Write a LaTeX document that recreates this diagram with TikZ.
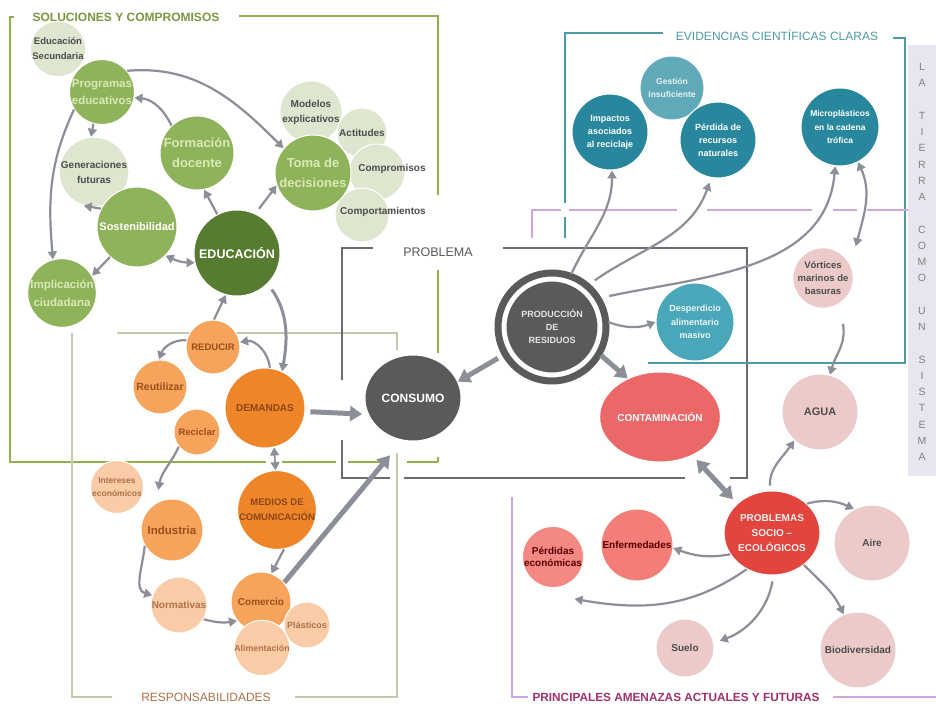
\documentclass[tikz,border=0pt]{standalone}
\usepackage{fontspec}
\setmainfont{Liberation Sans}
\usetikzlibrary{arrows.meta,shapes.geometric}
\definecolor{solgreen}{HTML}{8FB35A}
\definecolor{solpale}{HTML}{DEE6D0}
\definecolor{soldark}{HTML}{567B31}
\definecolor{soltext}{HTML}{D9EAB8}
\definecolor{solline}{HTML}{92B04C}
\definecolor{orlight}{HTML}{F6A45C}
\definecolor{orstrong}{HTML}{EE8528}
\definecolor{orpale}{HTML}{F9CBA6}
\definecolor{ortext}{HTML}{9A4E1C}
\definecolor{respline}{HTML}{C6C7AB}
\definecolor{conscol}{HTML}{5A5A5A}
\definecolor{evdark}{HTML}{28879D}
\definecolor{evmid}{HTML}{60A9B8}
\definecolor{evlight}{HTML}{4AA7BA}
\definecolor{evline}{HTML}{4E9BA8}
\definecolor{ampale}{HTML}{ECCACA}
\definecolor{amred}{HTML}{E2443E}
\definecolor{amcont}{HTML}{EA6868}
\definecolor{amsalmon}{HTML}{F37E78}
\definecolor{amline}{HTML}{CDA6DC}
\definecolor{amtitle}{HTML}{A2306C}
\definecolor{arrgray}{HTML}{8C8E98}
\definecolor{bandcol}{HTML}{E9E5EE}
\newcommand{\fsz}[2]{\fontsize{#1}{#2}\selectfont\bfseries}

\begin{document}
\begin{tikzpicture}[x=1pt,y=1pt,
    ball/.style={circle,inner sep=0pt,draw=white,line width=1pt,align=center,minimum size=#1pt},
    oval/.style 2 args={ellipse,inner sep=0pt,draw=white,line width=1pt,align=center,minimum width=#1pt,minimum height=#2pt},
    sol/.style={ball=#1,fill=solgreen,text=soltext},
    solp/.style={ball=#1,fill=solpale,text=black!70},
    resp/.style={ball=#1,fill=orlight,text=ortext},
    resps/.style={ball=#1,fill=orstrong,text=ortext!90!black},
    respp/.style={ball=#1,fill=orpale,text=ortext!80},
    evid/.style={ball=#1,fill=evdark,text=white},
    amen/.style={ball=#1,fill=ampale,text=black!70},
    solfr/.style={draw=solline,line width=1.8pt},
    respfr/.style={draw=respline,line width=1.6pt},
    probfr/.style={draw=black!58,line width=1.6pt},
    evfr/.style={draw=evline,line width=1.6pt},
    amfr/.style={draw=amline,line width=1.6pt},
    arr/.style={draw=arrgray,line width=2.2pt,-{Triangle[length=8pt,width=9pt]}},
    arrd/.style={arr,{Triangle[length=8pt,width=9pt]}-{Triangle[length=8pt,width=9pt]}},
    bigarr/.style={draw=arrgray,line width=5pt,-{Triangle[length=12pt,width=15pt]}},
    bigarrd/.style={bigarr,{Triangle[length=12pt,width=15pt]}-{Triangle[length=12pt,width=15pt]}}]
    \fill[white] (0,0) rectangle (936,-706);
    \useasboundingbox (0,0) rectangle (936,-706);
    \fill[bandcol] (908,-45) rectangle (936,-476);

    % frames
    \draw[solfr] (14,-17) -- (10,-17) -- (10,-462) -- (266,-462);
    \draw[solfr] (239,-16) -- (438,-16) -- (438,-195);
    \draw[solfr] (438,-270) -- (438,-353);
    \foreach \a/\b in {282/336,348/388,407/438}
        \draw[solfr] (\a,-462) -- (\b,-462);
    \draw[solfr] (438,-462) -- (438,-457);
    \draw[respfr] (117,-333) -- (397,-333) -- (397,-350);
    \draw[respfr] (397,-453) -- (397,-697) -- (295,-697);
    \draw[respfr] (112,-697) -- (72,-697) -- (72,-333);
    \draw[probfr] (342,-380) -- (342,-248) -- (373,-248);
    \draw[probfr] (503,-248) -- (747,-248) -- (747,-478) -- (730,-478);
    \draw[probfr] (685,-478) -- (404,-478);
    \draw[probfr] (390,-478) -- (342,-478) -- (342,-440);
    \draw[evfr] (565,-238) -- (565,-217);
    \draw[evfr] (565,-203) -- (565,-33) -- (663,-33);
    \draw[evfr] (893,-38) -- (905,-38) -- (905,-363) -- (648,-363);
    \draw[amfr] (532,-238) -- (532,-210) -- (561,-210);
    \foreach \a/\b in {569/677,707/812,833/857,867/908}
        \draw[amfr] (\a,-210) -- (\b,-210);
    \draw[amfr] (512,-497) -- (512,-697) -- (528,-697);
    \draw[amfr] (833,-697) -- (936,-697);

    % soluciones y compromisos
    \node[solp=46,font=\fsz{9.5}{15}] (secund) at (58,-49) {Educación\\Secundaria};
    \node[solp=54,font=\fsz{10}{15}] (gener) at (94,-172) {Generaciones\\futuras};
    \node[solp=46,font=\fsz{10}{15}] (model) at (311,-112) {Modelos\\explicativos};
    \node[solp=50,font=\fsz{10}{12}] (actit) at (362,-133) {Actitudes};
    \node[solp=56] (compr) at (377,-172) {};
    \node[solp=54] (comport) at (362,-215) {};
    \node[sol=64,font=\fsz{11.5}{17}] (prog) at (102,-92) {Programas\\educativos};
    \node[sol=74,font=\fsz{13}{20}] (form) at (197,-153) {Formación\\docente};
    \node[sol=76,font=\fsz{13}{20}] (toma) at (313,-173) {Toma de\\decisiones};
    \node[sol=80,text=white,font=\fsz{11}{13}] (sost) at (137,-227) {Sostenibilidad};
    \node[sol=68,font=\fsz{11.5}{18}] (impl) at (62,-293) {Implicación\\ciudadana};
    \node[sol=86,fill=soldark,text=white,font=\fsz{12.5}{15}] (educ) at (237,-253) {EDUCACIÓN};
    \node[text=black!70,font=\fsz{10}{12}] (comprtxt) at (392,-169) {Compromisos};
    \node[text=black!70,font=\fsz{10}{12}] (comporttxt) at (383,-212) {Comportamientos};

    % responsabilidades
    \node[resp=54,font=\fsz{9.5}{12}] (red) at (213,-347) {REDUCIR};
    \node[resp=54,font=\fsz{10.5}{12}] (reut) at (160,-387) {Reutilizar};
    \node[resp=46,font=\fsz{9.5}{12}] (reci) at (197,-432) {Reciclar};
    \node[resps=80,font=\fsz{10}{12}] (dem) at (265,-408) {DEMANDAS};
    \node[resps=78,font=\fsz{9.5}{15}] (med) at (277,-510) {MEDIOS DE\\COMUNICACIÓN};
    \node[resp=62,font=\fsz{11.5}{13}] (ind) at (172,-530) {Industria};
    \node[resp=60,font=\fsz{10}{12}] (com) at (261,-602) {Comercio};
    \node[respp=44,font=\fsz{8.5}{12.5}] (inter) at (117,-487) {Intereses\\económicos};
    \node[respp=56,font=\fsz{10}{12}] (norm) at (179,-605) {Normativas};
    \node[respp=46,font=\fsz{9}{11}] (plast) at (307,-625) {Plásticos};
    \node[respp=50,font=\fsz{8.8}{11}] (alim) at (262,-648) {Alimentación};

    % problema
    \node[oval={96}{86},fill=conscol,text=white,font=\fsz{12}{14}] (cons) at (413,-398) {CONSUMO};
    \node[circle,inner sep=0pt,minimum size=95pt,fill=conscol,draw=white,line width=4pt,outer sep=9pt,
        text=white!90!black,align=center,font=\fsz{9}{13}] (prod) at (552,-327) {PRODUCCIÓN\\DE\\RESIDUOS};
    \draw[conscol,line width=7pt] (prod.center) circle (54pt);

    % evidencias
    \node[evid=76,font=\fsz{9}{13}] (imp) at (610,-132) {Impactos\\asociados\\al reciclaje};
    \node[evid=64,fill=evmid,text=white!85!evmid,font=\fsz{8.5}{13}] (gest) at (672,-88) {Gestión\\insuficiente};
    \node[evid=76,font=\fsz{9}{13}] (perd) at (718,-140) {Pérdida de\\recursos\\naturales};
    \node[evid=78,font=\fsz{8.5}{13.5}] (micro) at (840,-127) {Microplásticos\\en la cadena\\trófica};
    \node[evid=78,fill=evlight,text=white!90!evlight,font=\fsz{9}{13.5}] (desp) at (695,-322) {Desperdicio\\alimentario\\masivo};

    % amenazas
    \node[amen=60,font=\fsz{9.5}{13}] (vort) at (823,-278) {Vórtices\\marinos de\\basuras};
    \node[amen=76,font=\fsz{11}{13}] (agua) at (820,-412) {AGUA};
    \node[amen=76,font=\fsz{10}{12}] (aire) at (872,-543) {Aire};
    \node[amen=76,font=\fsz{10}{12}] (bio) at (858,-650) {Biodiversidad};
    \node[amen=58,font=\fsz{10}{12}] (suelo) at (685,-648) {Suelo};
    \node[oval={102}{90},fill=amcont,text=white,font=\fsz{10}{12}] (cont) at (660,-417) {CONTAMINACIÓN};
    \node[oval={94}{84},fill=amred,text=white!92!amred,font=\fsz{10}{15}] (prob) at (772,-533) {PROBLEMAS\\SOCIO –\\ECOLÓGICOS};
    \node[amen=72,fill=amsalmon,text=red!35!black,font=\fsz{10}{12}] (enf) at (637,-545) {Enfermedades};
    \node[amen=58,fill=amsalmon!92!white,text=red!35!black,font=\fsz{10}{12.5}] (perdec) at (553,-557) {Pérdidas\\económicas};

    % connectors
    \draw[arr] (prog.40) to[out=5,in=135] (toma.140);
    \draw[arr] (form.133) to[out=115,in=-5] (prog.-10);
    \draw[arr] (prog.-105) -- (gener.95);
    \draw[arr] (prog.212) to[out=245,in=95] (impl.105);
    \draw[arr] (sost.153) -- (gener.-107);
    \draw[arr] (sost.228) -- (impl.30);
    \draw[arrd] (educ.193) to[bend left=12] (sost.-45);
    \draw[arr] (educ.117) -- (form.-79);
    \draw[arr,shorten <=6pt] (educ.65) -- (toma.199);
    \draw[arr,line width=3pt,shorten <=7pt] (educ.-45) to[out=-55,in=80] (dem.65);
    \draw[arr] (red.88) -- (educ.-105);
    \draw[arr] (dem.83) to[out=95,in=10] (red.10);
    \draw[arr] (red.166) to[out=175,in=70] (reut.92);
    \draw[arr] (reci.219) to[out=245,in=80] ([shift={(-4,10)}]ind.108);
    \draw[arrd,line width=1.6pt] (dem.-77) -- (med.92);
    \draw[arr] (med.-80) -- (com.70);
    \draw[arr] (ind.210) to[out=265,in=165] (norm.160);
    \draw[arr] (norm.-30) to[out=-15,in=190] (com.218);
    \draw[bigarr] (com.40) -- ([shift={(-8,-16)}]cons.250);
    \draw[bigarr,shorten <=5pt,shorten >=6pt] (dem.-5) -- (cons.200);
    \draw[bigarr,shorten <=6pt] (prod.210) -- (cons.20);
    \draw[bigarr] (prod.-30) -- (cont.130);
    \draw[arr] (prod.70) to[out=65,in=-90] (imp.-87);
    \draw[arr,shorten <=7pt,shorten >=5pt] (prod.49) to[out=35,in=250] (perd.-100);
    \draw[arr,shorten <=9pt] (prod.31) to[out=12,in=265] (micro.-97);
    \draw[arr] (prod.5) to[bend right=20] (desp.180);
    \draw[arrd] (micro.-63) to[out=-65,in=75] ([shift={(11,10)}]vort.45);
    \draw[arr] ([shift={(7,-18)}]vort.-65) to[out=-80,in=75] (agua.75);
    \draw[bigarrd,shorten <=6pt,shorten >=6pt] (cont.-50) -- (prob.140);
    \draw[arr,shorten <=5pt] (prob.92) to[out=95,in=235] (agua.228);
    \draw[arr] (prob.40) to[out=15,in=155] (aire.118);
    \draw[arr] (prob.207) to[out=190,in=-20] (enf.-5);
    \draw[arr] (prob.235) to[out=215,in=-10] ([shift={(6,-15)}]perdec.-60);
    \draw[arr,shorten <=6pt,shorten >=6pt] (prob.-88) to[out=-100,in=20] (suelo.10);
    \draw[arr] (prob.-45) to[out=-45,in=115] (bio.112);

    % titles
    \node[text=solline!85!black,font=\fsz{12}{14}] (soltit) at (126,-17) {SOLUCIONES Y COMPROMISOS};
    \node[text=evline,font=\fontsize{12}{14}\selectfont] (evtit) at (777,-35) {EVIDENCIAS CIENTÍFICAS CLARAS};
    \node[text=black!65,font=\fontsize{12.5}{14}\selectfont] (probtit) at (438,-252) {PROBLEMA};
    \node[text=ortext!80,font=\fontsize{12}{14}\selectfont] (resptit) at (206,-697) {RESPONSABILIDADES};
    \node[text=amtitle,font=\fsz{11.8}{14}] (amtit) at (676,-697) {PRINCIPALES AMENAZAS ACTUALES Y FUTURAS};
    \foreach \l [count=\i from 0] in {L,A,{},T,I,E,R,R,A,{},C,O,M,O,{},U,N,{},S,I,S,T,E,M,A}
        \node[text=black!50,font=\fontsize{10.5}{12}\selectfont] (let\i) at (922,{-(67+16.25*\i)}) {\l};
\end{tikzpicture}
\end{document}
